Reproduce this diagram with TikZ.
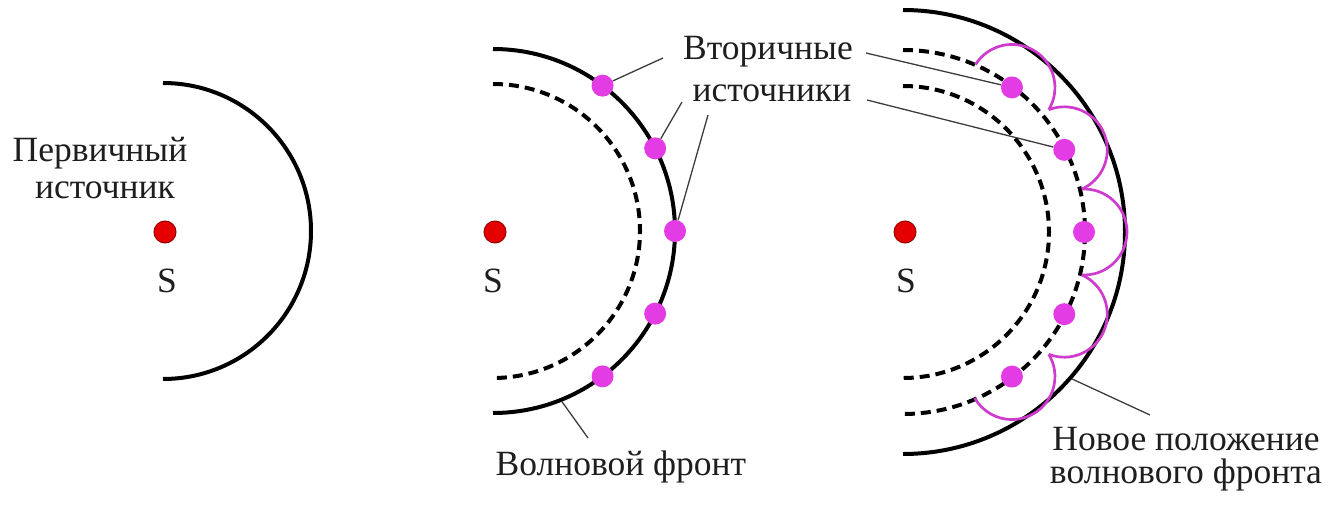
\documentclass[tikz,border=0pt]{standalone}
\usepackage{fontspec}
\setmainfont{Liberation Serif}
\usetikzlibrary{calc}
\definecolor{srcred}{RGB}{228,0,0}
\definecolor{srcdark}{RGB}{150,0,0}
\definecolor{secmag}{RGB}{228,60,228}
\definecolor{wavemag}{RGB}{205,60,205}
\definecolor{leadgray}{RGB}{60,60,60}
\definecolor{txt}{RGB}{30,30,30}
\begin{document}
\begin{tikzpicture}[x=1pt,y=-1pt,
  solidarc/.style={line width=4pt},
  dasharc/.style={line width=4pt, dash pattern=on 10pt off 6pt},
  src/.style={circle, fill=srcred, draw=srcdark, line width=1pt, minimum size=22pt, inner sep=0pt},
  sec/.style={circle, fill=secmag, minimum size=22pt, inner sep=0pt},
  wavelet/.style={draw=wavemag, line width=2.7pt},
  leader/.style={draw=leadgray, line width=1.3pt},
  lbl/.style={anchor=base, font=\fontsize{35.5}{40}\selectfont, text=txt, inner sep=0pt}
]
\useasboundingbox (0,0) rectangle (1330,505);

% ---------- panel 1 ----------
\coordinate (o1) at (163,231);
\draw[solidarc] ($(o1)+(-90:148)$) arc[start angle=-90, end angle=90, radius=148];
\node[src] (s1) at (165,232) {};
\node[lbl] (sl1) at (167,292) {S};
\node[lbl] (p1a) at (100,162) {Первичный};
\node[lbl] (p1b) at (105,199) {источник};

% ---------- panel 2 ----------
\coordinate (o2) at (493,231);
\draw[dasharc] ($(o2)+(-90:147)$) arc[start angle=-90, end angle=90, radius=147];
\draw[solidarc] ($(o2)+(-90:182)$) arc[start angle=-90, end angle=90, radius=182];
\node[src] (s2) at (495,232) {};
\node[lbl] (sl2) at (493,292) {S};
\coordinate (w2) at ($(o2)+(68:184)$);
\coordinate (l2a) at (663,58);
\coordinate (l2b) at (682,102);
\coordinate (l2c) at (708,115);
\coordinate (l2d) at (588,438);
\node[sec] (b1) at ($(o2)+(-53:182)$) {};
\node[sec] (b2) at ($(o2)+(-27:182)$) {};
\node[sec] (b3) at ($(o2)+(0:182)$) {};
\node[sec] (b4) at ($(o2)+(27:182)$) {};
\node[sec] (b5) at ($(o2)+(53:182)$) {};
\draw[leader] (b1) -- (l2a);
\draw[leader] (b2) -- (l2b);
\draw[leader] (b3) -- (l2c);
\draw[leader] (w2) -- (l2d);
\node[lbl] (v1) at (768,60) {Вторичные};
\node[lbl] (v2) at (772,102) {источники};
\node[lbl] (wf) at (621,475) {Волновой фронт};

% ---------- panel 3 ----------
\coordinate (o3) at (903,232);
\draw[dasharc] ($(o3)+(-90:146)$) arc[start angle=-90, end angle=90, radius=146];
\draw[dasharc] ($(o3)+(-90:182)$) arc[start angle=-90, end angle=90, radius=182];
\draw[solidarc] ($(o3)+(-90:222)$) arc[start angle=-90, end angle=90, radius=222];
\coordinate (c1) at ($(o3)+(-53:181)$);
\coordinate (c2) at ($(o3)+(-27:181)$);
\coordinate (c3) at ($(o3)+(0:181)$);
\coordinate (c4) at ($(o3)+(27:181)$);
\coordinate (c5) at ($(o3)+(53:181)$);
\draw[wavelet] ($(c1)+(-148:43)$) arc[start angle=-148, end angle=31, radius=43];
\draw[wavelet] ($(c2)+(-111:43)$) arc[start angle=-111, end angle=66, radius=43];
\draw[wavelet] ($(c3)+(-93:43)$) arc[start angle=-93, end angle=93, radius=43];
\draw[wavelet] ($(c4)+(-66:43)$) arc[start angle=-66, end angle=111, radius=43];
\draw[wavelet] ($(c5)+(-31:43)$) arc[start angle=-31, end angle=150, radius=43];
\node[src] (s3) at (905,232) {};
\node[lbl] (sl3) at (906,292) {S};
\node[sec] (d1) at (c1) {};
\node[sec] (d2) at (c2) {};
\node[sec] (d3) at (c3) {};
\node[sec] (d4) at (c4) {};
\node[sec] (d5) at (c5) {};
\coordinate (l3a) at (866,53);
\coordinate (l3b) at (867,100);
\coordinate (w3) at ($(o3)+(41:224)$);
\coordinate (l3c) at (1150,415);
\draw[leader] (d1) -- (l3a);
\draw[leader] (d2) -- (l3b);
\draw[leader] (w3) -- (l3c);
\node[lbl] (n1) at (1186,450) {Новое положение};
\node[lbl] (n2) at (1186,483) {волнового фронта};
\end{tikzpicture}
\end{document}
